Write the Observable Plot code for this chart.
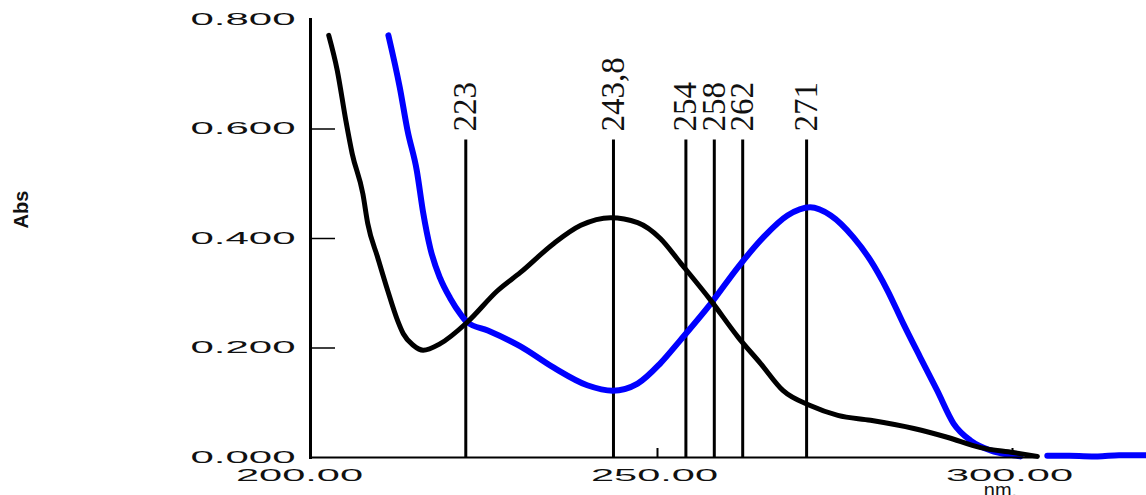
<!DOCTYPE html>
<html><head><meta charset="utf-8">
<script src="https://cdn.jsdelivr.net/npm/d3@7"></script>
<script src="https://cdn.jsdelivr.net/npm/@observablehq/plot@0.6"></script>
<style>html,body{margin:0;padding:0;background:#fff;} svg{display:block;}</style>
</head><body><div id="chart"></div>
<script>
// Black spectrum (nm, Abs)
const blackNm  = [203.7, 204.9, 206.1, 207.0, 208.5, 209.2, 210.6, 212.0, 213.4, 214.2, 215.6, 217.0, 219.4, 223.2, 227.5, 230.7, 235.4, 239.2, 243.4, 247.2, 250.4, 253.2, 257.5, 261.4, 264.5, 267.7, 271.5, 275.4, 280.0, 286.1, 290.8, 295.5, 300.1, 303.5];
const blackAbs = [0.771, 0.707, 0.616, 0.555, 0.482, 0.427, 0.365, 0.305, 0.250, 0.226, 0.205, 0.196, 0.208, 0.247, 0.305, 0.338, 0.391, 0.424, 0.438, 0.429, 0.400, 0.356, 0.287, 0.219, 0.172, 0.122, 0.095, 0.077, 0.068, 0.053, 0.037, 0.018, 0.009, 0.002];
// Blue spectrum (nm, Abs); null = gap in trace
const blueNm  = [212.1, 213.7, 214.8, 216.1, 217.0, 218.0, 219.4, 220.8, 222.3, 223.2, 226.1, 230.7, 235.4, 240.1, 243.7, 247.2, 250.4, 253.2, 257.5, 261.3, 264.9, 268.3, 271.5, 274.4, 277.6, 280.0, 282.4, 284.6, 287.0, 289.4, 291.7, 294.1, 296.9, 300.1, 301.1, 302.5, 304.9, 308.0, 312.0, 315.0, 318.9];
const blueAbs = [0.771, 0.676, 0.597, 0.524, 0.447, 0.382, 0.327, 0.291, 0.261, 0.247, 0.232, 0.203, 0.164, 0.132, 0.122, 0.135, 0.172, 0.214, 0.281, 0.347, 0.402, 0.442, 0.457, 0.442, 0.402, 0.360, 0.305, 0.245, 0.183, 0.122, 0.062, 0.031, 0.013, 0.004, 0.002, null, 0.003, 0.003, 0.002, 0.004, 0.004];
// Marker wavelengths and labels
const markerNm = [223, 243.8, 254, 258, 262, 271];
const markerLabels = ["223", "243,8", "254", "258", "262", "271"];
const markerTop = 0.58;
// Axis ticks
const xTicks = [200, 250, 300];
const yTicks = [0, 0.2, 0.4, 0.6, 0.8];

const black = blackNm.map((w, i) => ({w, a: blackAbs[i]}));
const blue = blueNm.map((w, i) => ({w, a: blueAbs[i]}));
const markers = markerNm.map((w, i) => ({w, label: markerLabels[i]}));

const W = 1146, H = 495, ML = 310, MT = 19, MB = 38;
const frameW = W - ML;
const serif = "'Liberation Serif', 'Times New Roman', 'DejaVu Serif', serif";

const chart = Plot.plot({
  width: W, height: H,
  marginLeft: ML, marginRight: 0, marginTop: MT, marginBottom: MB,
  x: {domain: [201.13, 318.87]},
  y: {domain: [0, 0.8]},
  style: {background: "#fff", fontFamily: "'Liberation Sans', Arial, sans-serif", color: "#111"},
  marks: [
    Plot.axisY({ticks: yTicks, tickFormat: d3.format(".3f"), tickSize: 0, tickPadding: 15, fontSize: 16, label: null}),
    Plot.axisX({ticks: xTicks, tickFormat: d3.format(".2f"), tickSize: 0, tickPadding: 12, fontSize: 16, dx: -3, label: null}),
    Plot.ruleY(yTicks.filter(t => t > 0 && t < 0.8), {insetRight: frameW - 25, stroke: "#000", strokeWidth: 1.5}),
    Plot.tickX(xTicks.filter(t => t > 200), {insetTop: 438 - 9, stroke: "#000", strokeWidth: 2}),
    Plot.ruleX(markers, {x: "w", y1: 0, y2: markerTop, stroke: "#000", strokeWidth: 3}),
    Plot.line(blue, {x: "w", y: "a", stroke: "#0000ff", strokeWidth: 6, strokeLinejoin: "round", curve: "monotone-x"}),
    Plot.line(black, {x: "w", y: "a", stroke: "#000", strokeWidth: 5, strokeLinejoin: "round", curve: "monotone-x"}),
    Plot.ruleY([0], {insetRight: W - 1037, stroke: "#000", strokeWidth: 2}),
    Plot.frame({anchor: "left", stroke: "#000", strokeWidth: 3}),
    Plot.text(markers, {x: "w", text: "label", frameAnchor: "top", dy: 112, rotate: -90, textAnchor: "start", lineAnchor: "middle",
      fontFamily: serif, fontSize: 33, fill: "#111", ariaLabel: "marker label"}),
    Plot.text(["Abs"], {frameAnchor: "left", dx: 21 - ML, dy: 228 - (MT + (H - MB - MT) / 2), rotate: -90, fontSize: 20, fontWeight: "bold", fill: "#111", ariaLabel: "y title"}),
    Plot.text(["nm."], {frameAnchor: "bottom", dx: 1000 - (ML + frameW / 2), dy: 33, lineAnchor: "middle", fontSize: 20, fill: "#111", ariaLabel: "x title"})
  ]
});
document.getElementById("chart").append(chart);

function stretch(label, len, family) {
  chart.querySelectorAll(`g[aria-label="${label}"]`).forEach(g => { if (family) g.style.fontFamily = family; });
  chart.querySelectorAll(`g[aria-label="${label}"] text`).forEach(t => {
    t.setAttribute("textLength", typeof len === "function" ? len(t.textContent) : len);
    t.setAttribute("lengthAdjust", "spacingAndGlyphs");
    if (family) { t.style.fontFamily = family; t.setAttribute("font-family", family); }
  });
}
stretch("y-axis tick label", 105);
stretch("x-axis tick label", 127);
stretch("marker label", s => s.length > 3 ? 62 : 38, serif);
stretch("y title", 30);
stretch("x title", 52);
</script>
</body></html>
